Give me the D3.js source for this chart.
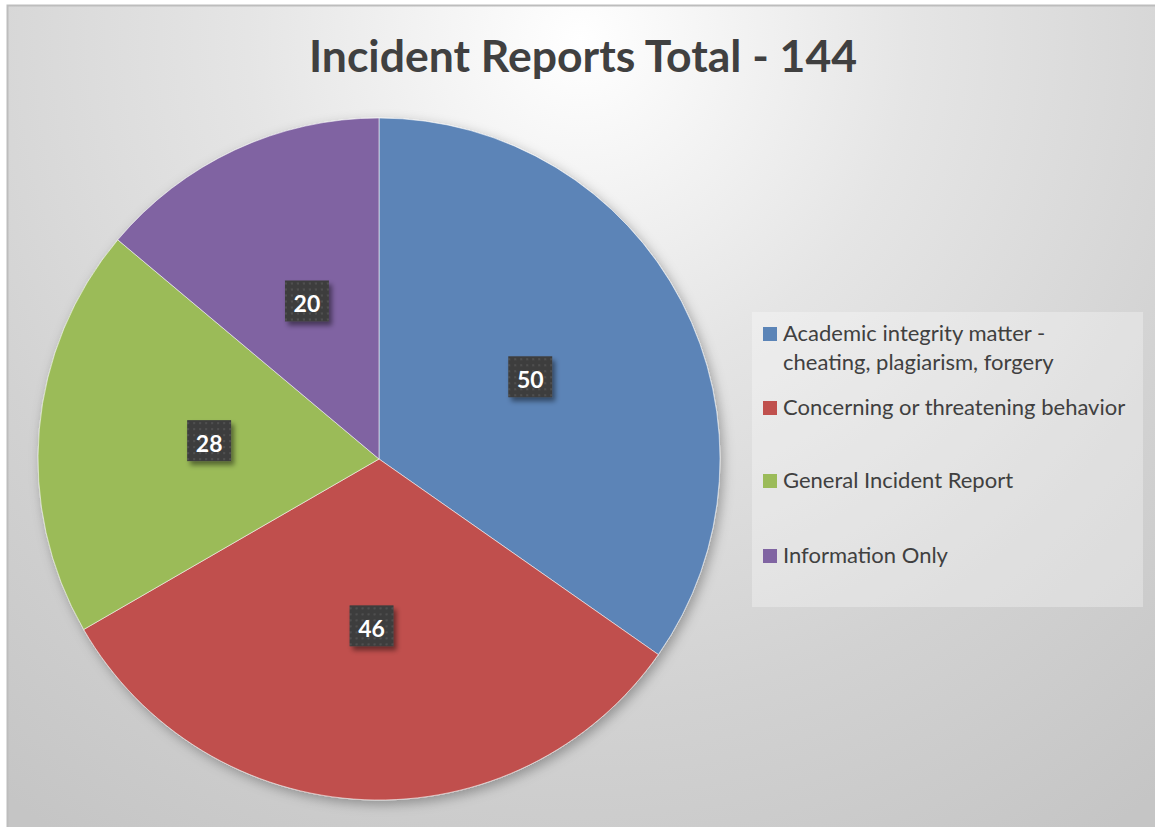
<!DOCTYPE html>
<html>
<head>
<meta charset="utf-8">
<script src="https://d3js.org/d3.v7.min.js"></script>
<style>
  body { margin: 0; background: #fff; }
  svg { display: block; }
</style>
</head>
<body>
<script>
// data
const categories = ['Academic integrity matter - cheating, plagiarism, forgery',
  'Concerning or threatening behavior', 'General Incident Report', 'Information Only']
const legendLines = [['Academic integrity matter -', 'cheating, plagiarism, forgery'],
  ['Concerning or threatening behavior'], ['General Incident Report'], ['Information Only']]
const values = [50, 46, 28, 20]
const colors = ['#5b84b7', '#c0504d', '#9bbb59', '#8064a2']
const title = 'Incident Reports Total - 144'

const width = 1155, height = 827
const cx = 379, cy = 459, radius = 341

const svg = d3.select('body').append('svg').attr('width', width).attr('height', height)
const defs = svg.append('defs')

const bg = defs.append('radialGradient').attr('id', 'bg')
  .attr('gradientUnits', 'userSpaceOnUse').attr('cx', 580).attr('cy', 40).attr('r', 950)
bg.append('stop').attr('offset', '0%').attr('stop-color', '#ffffff')
bg.append('stop').attr('offset', '35%').attr('stop-color', '#e5e5e5')
bg.append('stop').attr('offset', '70%').attr('stop-color', '#d2d2d2')
bg.append('stop').attr('offset', '100%').attr('stop-color', '#c5c5c5')

const shadow = defs.append('filter').attr('id', 'pieShadow')
  .attr('x', '-20%').attr('y', '-20%').attr('width', '140%').attr('height', '140%')
shadow.append('feDropShadow').attr('dx', 3).attr('dy', 4).attr('stdDeviation', 6)
  .attr('flood-color', '#000').attr('flood-opacity', 0.3)

const boxShadow = defs.append('filter').attr('id', 'boxShadow')
  .attr('x', '-30%').attr('y', '-30%').attr('width', '170%').attr('height', '170%')
boxShadow.append('feDropShadow').attr('dx', 3).attr('dy', 4).attr('stdDeviation', 2.5)
  .attr('flood-color', '#000').attr('flood-opacity', 0.45)

const dots = defs.append('pattern').attr('id', 'dots').attr('patternUnits', 'userSpaceOnUse')
  .attr('width', 6).attr('height', 6)
dots.append('rect').attr('width', 6).attr('height', 6).attr('fill', '#3e3e3e')
dots.append('rect').attr('x', 2).attr('y', 2).attr('width', 2).attr('height', 2).attr('fill', '#505050')

// chart area
svg.append('rect').attr('x', 7.5).attr('y', 5.5).attr('width', width).attr('height', height)
  .attr('fill', 'url(#bg)').attr('stroke', '#bdbdbd').attr('stroke-width', 2)

svg.append('text').attr('x', 583).attr('y', 72).attr('text-anchor', 'middle')
  .style('font-family', 'Lato, sans-serif').style('font-weight', 'bold').style('font-size', '44.5px')
  .attr('fill', '#404040').text(title)

const pie = d3.pie().sort(null).value(d => d)
const arc = d3.arc().innerRadius(0).outerRadius(radius)
const arcs = pie(values)

const g = svg.append('g').attr('transform', `translate(${cx},${cy})`)
g.append('g').attr('filter', 'url(#pieShadow)').selectAll('path').data(arcs).join('path')
  .attr('d', arc).attr('fill', (d, i) => colors[i])
  .attr('stroke', 'rgba(255,255,255,0.55)').attr('stroke-width', 1)

const labels = g.selectAll('g.lbl').data(arcs).join('g').attr('class', 'lbl')
  .attr('transform', d => `translate(${arc.centroid(d)})`)
labels.append('rect').attr('x', -22).attr('y', -24).attr('width', 44).attr('height', 41)
  .attr('fill', 'url(#dots)').attr('filter', 'url(#boxShadow)')
labels.append('text').attr('text-anchor', 'middle').attr('y', 8)
  .style('font-family', 'Lato, sans-serif').style('font-weight', 'bold').style('font-size', '23px')
  .attr('fill', '#fff').text(d => d.data)

// legend
svg.append('rect').attr('x', 752).attr('y', 312).attr('width', 391).attr('height', 295)
  .attr('fill', '#fff').attr('fill-opacity', 0.3)

const legendY = [341, 415, 488, 563]
const leg = svg.append('g').selectAll('g').data(categories).join('g')
leg.append('rect').attr('x', 763).attr('y', (d, i) => legendY[i] - 14)
  .attr('width', 14).attr('height', 14).attr('fill', (d, i) => colors[i])
leg.append('text').attr('x', 783).attr('y', (d, i) => legendY[i])
  .style('font-family', 'Lato, sans-serif').style('font-size', '22px').attr('fill', '#404040')
  .selectAll('tspan').data((d, i) => legendLines[i]).join('tspan')
  .attr('x', 783).attr('dy', (d, j) => j ? 29 : 0).text(d => d)
</script>
</body>
</html>
